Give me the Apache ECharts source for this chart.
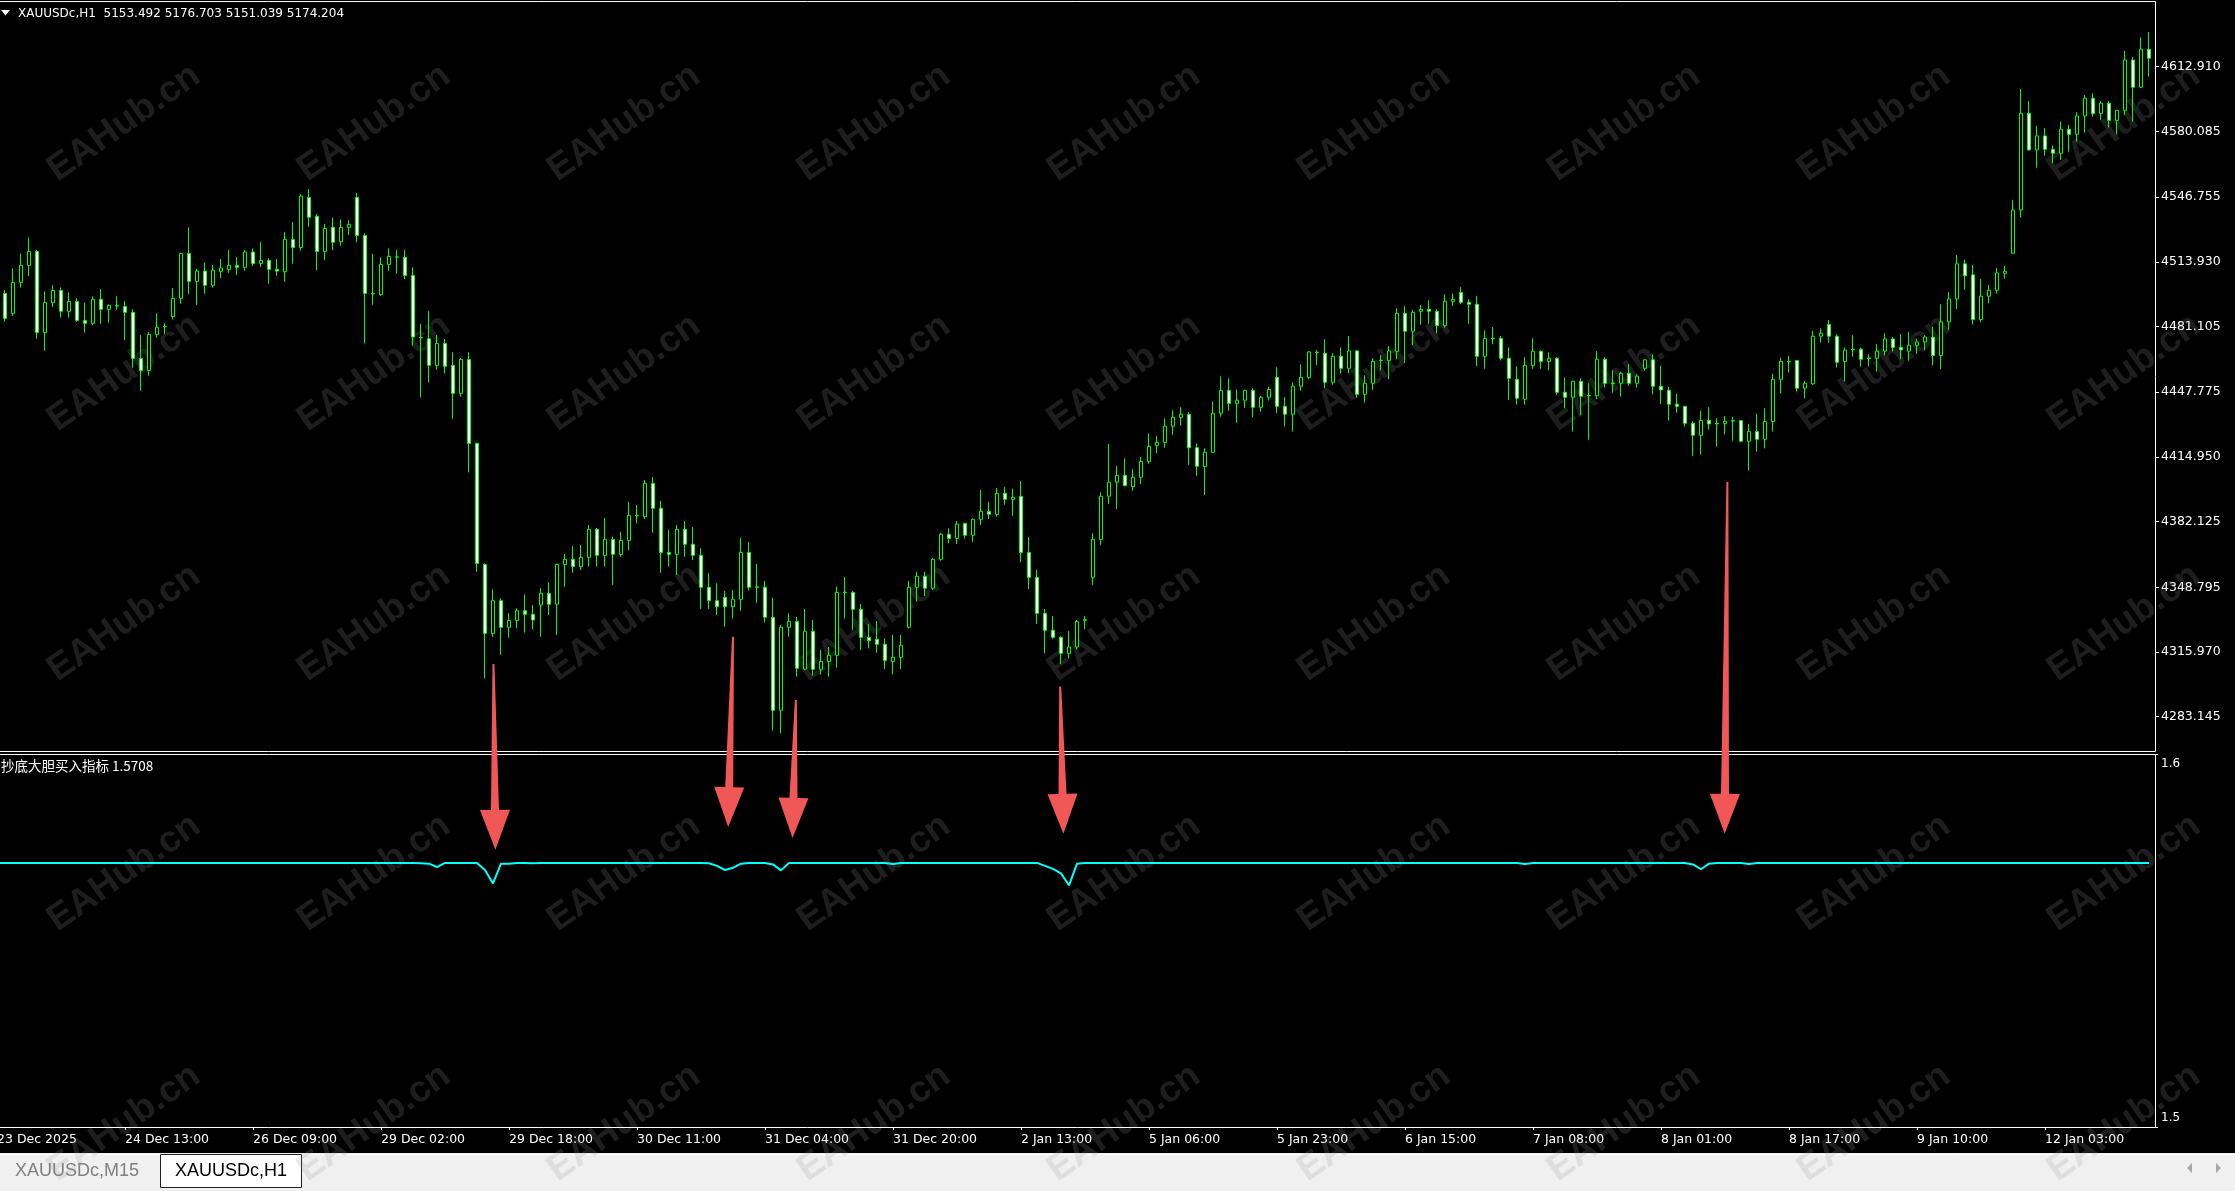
<!DOCTYPE html>
<html><head><meta charset="utf-8">
<script src="https://cdn.jsdelivr.net/npm/echarts@6/dist/echarts.min.js"></script>
<style>html,body{margin:0;padding:0;background:#000;overflow:hidden}#c{width:2235px;height:1191px}</style>
</head><body><div id="c"></div>
<script>
// ---- data ----
const timeLabels = ['23 Dec 2025','24 Dec 13:00','26 Dec 09:00','29 Dec 02:00','29 Dec 18:00','30 Dec 11:00','31 Dec 04:00','31 Dec 20:00','2 Jan 13:00','5 Jan 06:00','5 Jan 23:00','6 Jan 15:00','7 Jan 08:00','8 Jan 01:00','8 Jan 17:00','9 Jan 10:00','12 Jan 03:00'];
const priceTicks = [4612.910,4580.085,4546.755,4513.930,4481.105,4447.775,4414.950,4382.125,4348.795,4315.970,4283.145];
const indTicks = [1.5, 1.6];
const headerText = 'XAUUSDc,H1  5153.492 5176.703 5151.039 5174.204';
const indicatorName = '抄底大胆买入指标 1.5708';
// [open, close, low, high] per H1 bar
const ohlc = [
['-','-','-','-'],
[4497.9,4485.2,4483.5,4499.6],[4487.8,4503.5,4486.4,4510.6],[4503.5,4512.1,4500.8,4518.2],[4512.1,4519.2,4506.7,4526.3],[4519.2,4478.1,4474.9,4519.9],
[4478.1,4493.2,4468.8,4498.9],[4493.2,4499.4,4491.0,4502.0],[4499.4,4488.8,4485.6,4500.9],[4488.8,4493.8,4485.6,4498.4],[4493.8,4484.2,4483.5,4495.4],
[4484.2,4482.7,4478.0,4493.3],[4482.7,4494.9,4481.8,4496.4],[4494.9,4489.8,4482.5,4500.1],[4489.8,4491.8,4483.0,4492.3],[4491.6,4491.5,4489.6,4496.4],
[4491.3,4488.3,4474.2,4494.0],[4488.3,4464.9,4460.2,4489.8],[4464.9,4458.8,4448.5,4476.8],[4458.8,4477.1,4456.1,4478.3],[4477.1,4480.7,4475.4,4487.8],
[4481.0,4481.1,4477.3,4482.7],[4486.1,4495.4,4484.7,4500.6],[4495.4,4518.2,4492.7,4518.6],[4518.2,4504.0,4497.6,4531.4],[4504.0,4509.2,4492.0,4510.4],
[4509.2,4502.0,4497.7,4513.6],[4502.0,4509.7,4500.8,4512.3],[4509.1,4510.8,4505.7,4515.3],[4510.1,4512.1,4508.4,4519.9],[4512.1,4511.1,4507.2,4516.3],
[4511.1,4518.9,4509.4,4519.9],[4518.9,4513.1,4511.8,4520.7],[4513.1,4514.6,4511.3,4523.9],[4514.6,4510.1,4502.8,4515.7],[4510.1,4509.2,4506.9,4515.3],
[4508.9,4525.3,4503.8,4529.0],[4525.3,4521.2,4513.0,4534.1],[4521.2,4547.3,4519.6,4548.3],[4546.6,4536.5,4531.7,4550.8],[4537.0,4519.2,4509.7,4538.2],
[4519.2,4530.9,4514.8,4533.1],[4531.4,4523.8,4519.9,4536.3],[4524.1,4531.4,4522.1,4535.4],[4531.4,4532.9,4527.5,4534.9],[4546.6,4527.3,4523.8,4548.8],
[4527.3,4497.9,4472.5,4528.3],[4497.8,4497.6,4492.2,4517.9],[4497.2,4512.6,4496.6,4516.2],[4512.6,4516.7,4509.4,4520.7],[4516.4,4516.3,4507.9,4519.9],
[4516.2,4507.0,4505.2,4519.9],[4507.0,4475.8,4471.4,4511.1],[4475.5,4475.3,4445.1,4482.3],[4474.9,4461.4,4452.8,4488.9],[4461.4,4472.5,4459.2,4476.8],
[4472.5,4460.9,4457.2,4474.7],[4461.4,4447.2,4434.3,4468.0],[4447.2,4464.4,4445.5,4465.1],[4464.4,4421.8,4407.1,4468.0],[4421.8,4360.9,4356.7,4422.2],
[4360.4,4325.4,4302.6,4360.9],[4325.4,4342.0,4323.7,4347.7],[4342.0,4328.5,4314.6,4343.2],[4328.5,4332.0,4323.2,4335.6],[4332.0,4336.9,4328.0,4338.1],
[4336.9,4335.1,4325.8,4345.2],[4335.1,4332.2,4327.5,4339.8],[4339.8,4345.7,4323.7,4348.3],[4345.7,4340.2,4334.7,4351.3],[4340.2,4360.4,4324.6,4360.8],
[4360.4,4363.0,4349.1,4365.7],[4363.0,4359.3,4356.2,4369.7],[4359.3,4364.0,4357.6,4370.3],[4364.0,4378.2,4359.3,4380.4],[4378.2,4365.0,4359.3,4378.9],
[4365.0,4373.1,4359.3,4383.9],[4373.1,4365.5,4350.0,4374.5],[4365.5,4372.6,4364.3,4376.8],[4372.6,4385.3,4367.7,4392.1],[4385.2,4385.0,4381.2,4390.5],
[4384.6,4401.5,4383.4,4403.2],[4401.5,4388.9,4376.5,4404.7],[4388.9,4366.5,4356.2,4392.6],[4366.5,4365.5,4359.3,4377.9],[4365.5,4378.2,4355.0,4380.4],
[4378.2,4370.6,4364.3,4382.4],[4370.6,4365.0,4362.6,4379.4],[4365.0,4348.8,4337.8,4368.6],[4348.8,4342.0,4337.8,4355.9],[4342.0,4339.0,4334.7,4350.8],
[4343.7,4339.0,4328.8,4346.9],[4339.0,4342.7,4332.9,4347.4],[4342.7,4366.5,4336.9,4373.8],[4366.5,4348.8,4347.1,4371.8],[4349.0,4348.8,4341.0,4360.6],
[4348.8,4333.6,4330.9,4352.0],[4333.6,4286.4,4276.1,4343.4],[4286.4,4328.5,4274.7,4329.7],[4328.5,4331.5,4323.7,4335.6],[4331.5,4307.7,4303.5,4333.7],
[4307.3,4326.5,4306.8,4337.8],[4326.5,4307.2,4304.0,4332.2],[4307.2,4311.2,4304.5,4317.0],[4311.2,4314.3,4303.5,4318.5],[4314.3,4346.2,4308.0,4349.1],
[4346.3,4346.1,4332.9,4354.0],[4346.2,4337.6,4327.1,4346.9],[4337.6,4323.4,4317.0,4340.3],[4323.4,4321.7,4317.8,4330.2],[4322.4,4319.9,4315.6,4331.7],
[4319.9,4311.6,4307.3,4322.9],[4311.1,4313.3,4304.6,4324.6],[4313.3,4319.4,4307.3,4324.6],[4328.5,4348.8,4327.8,4352.0],[4348.8,4354.4,4341.5,4356.6],
[4354.4,4348.3,4344.4,4356.6],[4348.3,4363.0,4347.4,4363.7],[4363.0,4375.7,4362.3,4376.5],[4375.7,4373.6,4371.1,4378.7],[4373.6,4380.9,4370.8,4382.4],
[4381.2,4375.2,4373.5,4381.6],[4375.2,4383.3,4371.8,4383.8],[4383.3,4387.3,4380.4,4398.2],[4387.3,4385.8,4383.4,4392.1],[4385.8,4396.5,4384.6,4399.2],
[4396.5,4393.4,4390.7,4399.7],[4393.4,4394.4,4385.1,4398.8],[4394.9,4366.4,4361.6,4402.7],[4366.4,4353.8,4347.9,4374.3],[4353.8,4335.6,4330.2,4357.6],
[4335.6,4327.0,4315.3,4337.8],[4327.0,4323.4,4322.7,4334.2],[4323.4,4315.3,4309.9,4323.9],[4315.3,4318.5,4312.6,4326.6],[4318.5,4331.5,4317.3,4332.2],
[4332.3,4332.1,4327.5,4334.2],[4353.9,4373.1,4350.0,4376.2],[4373.1,4395.0,4370.3,4397.0],[4395.0,4402.1,4391.1,4421.5],[4402.1,4405.6,4388.5,4410.3],
[4405.6,4400.4,4399.9,4414.2],[4399.9,4404.6,4397.8,4408.7],[4404.6,4412.7,4401.2,4414.9],[4412.7,4420.3,4411.5,4426.9],[4420.8,4422.3,4416.9,4425.6],
[4422.3,4430.5,4419.6,4434.5],[4430.5,4435.0,4426.2,4438.6],[4435.0,4436.6,4430.8,4440.1],[4436.6,4419.6,4410.8,4437.6],[4419.6,4410.2,4405.4,4421.8],
[4410.0,4417.3,4395.6,4419.3],[4417.3,4437.1,4417.1,4443.1],[4437.1,4448.7,4435.4,4455.8],[4448.7,4442.1,4438.4,4454.8],[4442.1,4443.7,4432.3,4449.2],
[4443.7,4448.7,4439.8,4449.0],[4448.7,4440.1,4434.9,4449.7],[4440.1,4445.2,4437.9,4445.9],[4445.2,4449.2,4443.5,4450.6],[4455.3,4440.6,4437.1,4460.4],
[4440.6,4436.6,4430.3,4445.2],[4436.6,4450.8,4427.8,4452.8],[4450.8,4455.3,4448.6,4461.9],[4455.3,4468.2,4454.3,4468.7],[4468.1,4467.9,4461.4,4469.2],
[4467.5,4452.8,4449.7,4474.6],[4452.8,4466.0,4451.6,4467.5],[4466.0,4459.9,4457.2,4470.5],[4459.9,4468.7,4457.4,4476.3],[4468.7,4446.7,4445.0,4469.2],
[4446.7,4452.3,4442.5,4456.3],[4452.3,4463.4,4448.9,4465.0],[4464.0,4463.8,4458.9,4466.5],[4463.9,4468.7,4454.3,4471.2],[4468.5,4487.8,4464.5,4490.3],
[4487.8,4478.7,4462.6,4491.5],[4478.7,4488.3,4471.7,4489.5],[4488.8,4489.8,4482.0,4492.0],[4489.8,4488.8,4482.5,4494.4],[4488.8,4481.5,4477.6,4489.8],
[4481.5,4493.9,4480.5,4497.4],[4493.9,4494.9,4491.5,4497.9],[4498.4,4493.4,4492.4,4501.1],[4493.4,4492.4,4482.5,4494.9],[4492.4,4466.0,4461.1,4496.6],
[4466.0,4475.1,4459.7,4479.2],[4475.2,4475.0,4472.1,4480.9],[4475.1,4465.0,4463.9,4476.3],[4465.0,4454.8,4443.7,4470.5],[4454.3,4444.7,4441.5,4460.9],
[4444.2,4461.4,4441.5,4465.5],[4461.4,4468.5,4459.7,4475.1],[4468.5,4463.4,4459.7,4469.0],[4463.4,4465.0,4458.9,4468.0],[4465.0,4447.7,4446.5,4465.5],
[4447.7,4445.2,4439.6,4455.3],[4445.2,4453.3,4427.8,4453.6],[4453.3,4445.7,4436.0,4454.8],[4446.1,4445.9,4423.7,4452.3],[4446.0,4464.5,4444.2,4468.7],
[4464.5,4452.3,4450.2,4465.5],[4452.4,4452.2,4447.5,4458.9],[4452.3,4457.4,4445.6,4458.2],[4457.4,4452.3,4451.0,4462.0],[4452.3,4455.9,4450.1,4456.9],
[4459.9,4464.2,4458.7,4464.5],[4464.2,4450.8,4446.7,4467.0],[4450.8,4448.9,4441.8,4461.1],[4448.8,4441.7,4433.4,4450.5],[4441.7,4440.6,4437.4,4446.9],
[4440.6,4432.0,4430.3,4440.8],[4432.0,4425.9,4415.5,4432.9],[4425.9,4433.5,4416.1,4438.3],[4433.5,4431.7,4428.8,4440.1],[4431.9,4431.7,4420.2,4434.6],
[4431.8,4433.0,4426.3,4435.7],[4433.3,4433.1,4423.2,4435.2],[4433.4,4422.9,4422.4,4433.6],[4422.9,4427.8,4408.0,4431.7],[4427.8,4423.9,4417.6,4436.8],
[4423.9,4432.9,4419.3,4439.6],[4432.9,4454.3,4427.8,4457.1],[4454.3,4463.3,4447.1,4465.3],[4463.4,4463.2,4457.7,4466.2],[4463.8,4449.8,4448.1,4464.2],
[4449.8,4452.3,4444.7,4453.5],[4452.0,4476.2,4451.5,4478.9],[4476.2,4477.7,4472.9,4480.2],[4482.2,4476.2,4472.9,4484.4],[4476.2,4463.0,4460.3,4477.2],
[4463.3,4469.1,4453.2,4470.4],[4469.5,4469.3,4465.8,4476.7],[4469.6,4464.5,4460.8,4470.4],[4465.1,4464.9,4460.8,4467.0],[4465.0,4468.6,4458.2,4472.1],
[4468.6,4474.8,4466.4,4477.7],[4474.8,4470.4,4468.4,4475.8],[4470.6,4469.2,4464.5,4477.2],[4468.6,4471.6,4463.8,4478.2],[4471.6,4473.3,4467.2,4475.0],
[4473.3,4475.8,4469.1,4476.8],[4475.7,4466.4,4461.3,4480.9],[4466.4,4483.4,4459.4,4492.4],[4483.4,4495.1,4479.4,4498.5],[4495.1,4512.9,4490.0,4517.4],
[4512.9,4506.8,4499.7,4514.9],[4507.3,4484.6,4482.2,4512.3],[4484.6,4496.5,4483.3,4505.2],[4496.5,4499.5,4492.9,4502.2],[4499.5,4508.3,4497.8,4510.7],
[4508.1,4509.1,4505.4,4511.8],[4518.3,4540.2,4518.0,4545.3],[4540.2,4589.3,4536.4,4601.6],[4589.3,4570.7,4570.3,4595.5],[4570.7,4577.8,4561.7,4582.9],
[4577.8,4571.0,4567.8,4581.7],[4571.0,4569.0,4563.9,4572.9],[4569.0,4581.2,4565.6,4585.1],[4581.2,4578.6,4569.8,4583.4],[4578.6,4587.9,4574.9,4589.8],
[4587.9,4596.9,4579.5,4598.6],[4596.9,4589.1,4587.6,4599.4],[4589.1,4594.4,4585.9,4595.5],[4594.4,4585.7,4582.0,4595.5],[4585.7,4590.8,4578.6,4591.0],
[4590.8,4616.3,4588.4,4620.9],[4616.3,4602.5,4585.1,4617.7],[4602.5,4621.8,4602.0,4627.8],[4621.8,4617.2,4607.9,4630.5]
];
const indicator = [
1.5708,1.5708,1.5708,1.5708,1.5708,1.5708,1.5708,1.5708,1.5708,1.5708,
1.5708,1.5708,1.5708,1.5708,1.5708,1.5708,1.5708,1.5708,1.5708,1.5708,
1.5708,1.5708,1.5708,1.5708,1.5708,1.5708,1.5708,1.5708,1.5708,1.5708,
1.5708,1.5708,1.5708,1.5708,1.5708,1.5708,1.5708,1.5708,1.5708,1.5708,
1.5708,1.5708,1.5708,1.5708,1.5708,1.5708,1.5708,1.5708,1.5708,1.5708,
1.5708,1.5708,1.5708,1.5707,1.5706,1.5697,1.5708,1.5708,1.5708,1.5708,
1.5708,1.5689,1.5653,1.5706,1.5706,1.5708,1.5708,1.5707,1.5708,1.5708,
1.5708,1.5708,1.5708,1.5708,1.5708,1.5708,1.5708,1.5708,1.5708,1.5708,
1.5708,1.5708,1.5708,1.5708,1.5708,1.5708,1.5708,1.5708,1.5708,1.5707,
1.5700,1.5689,1.5695,1.5706,1.5708,1.5708,1.5708,1.5704,1.5688,1.5708,
1.5708,1.5708,1.5708,1.5708,1.5708,1.5708,1.5708,1.5708,1.5708,1.5708,
1.5708,1.5708,1.5705,1.5708,1.5708,1.5708,1.5708,1.5708,1.5708,1.5708,
1.5708,1.5708,1.5708,1.5708,1.5708,1.5708,1.5708,1.5708,1.5708,1.5708,
1.5708,1.5700,1.5692,1.5680,1.5648,1.5706,1.5708,1.5708,1.5708,1.5708,
1.5708,1.5708,1.5708,1.5708,1.5708,1.5708,1.5708,1.5708,1.5708,1.5708,
1.5708,1.5708,1.5708,1.5708,1.5708,1.5708,1.5708,1.5708,1.5708,1.5708,
1.5708,1.5708,1.5708,1.5708,1.5708,1.5708,1.5708,1.5708,1.5708,1.5708,
1.5708,1.5708,1.5708,1.5708,1.5708,1.5708,1.5708,1.5708,1.5708,1.5708,
1.5708,1.5708,1.5708,1.5708,1.5708,1.5708,1.5708,1.5708,1.5708,1.5708,
1.5708,1.5705,1.5708,1.5708,1.5708,1.5708,1.5708,1.5708,1.5708,1.5708,
1.5708,1.5708,1.5708,1.5708,1.5708,1.5708,1.5708,1.5708,1.5708,1.5708,
1.5708,1.5708,1.5704,1.5691,1.5706,1.5708,1.5708,1.5708,1.5708,1.5705,
1.5708,1.5708,1.5708,1.5708,1.5708,1.5708,1.5708,1.5708,1.5708,1.5708,
1.5708,1.5708,1.5708,1.5708,1.5708,1.5708,1.5708,1.5708,1.5708,1.5708,
1.5708,1.5708,1.5708,1.5708,1.5708,1.5708,1.5708,1.5708,1.5708,1.5708,
1.5708,1.5708,1.5708,1.5708,1.5708,1.5708,1.5708,1.5708,1.5708,1.5708,
1.5708,1.5708,1.5708,1.5708,1.5708,1.5708,1.5708,1.5708,1.5708,1.5708
];
// red annotation arrows: start (bar, price) in the price pane, tip (bar, value) in the indicator pane
const arrowBarsTop = [62.06, 92.0, 99.86, 132.9, 216.3];
const arrowPricesTop = [4309.9, 4323.7, 4291.6, 4298.4, 4402.3];
const arrowBarsTip = [62.3, 91.4, 99.44, 133.3, 215.96];
const arrowValuesTip = [1.5743, 1.5804, 1.5775, 1.5786, 1.5786];
const watermarkText = 'EAHub.cn';

// ---- chart ----
const cats = ohlc.map((d, i) => String(i));
const chart = echarts.init(document.getElementById('c'), null, {renderer: 'canvas', width: 2235, height: 1191});
const axisFont = {color: '#ffffff', fontFamily: 'DejaVu Sans', fontSize: 12.5};

const option = {
  backgroundColor: '#000000',
  animation: false,
  grid: [
    {left: -7, top: 1, width: 2160, height: 750, show: false, containLabel: false, outerBoundsMode: 'none'},
    {left: -7, top: 754, width: 2160, height: 373, show: false, containLabel: false, outerBoundsMode: 'none'}
  ],
  xAxis: [
    {type: 'category', gridIndex: 0, data: cats, show: false},
    {type: 'category', gridIndex: 1, data: cats, boundaryGap: true,
      axisLine: {show: false}, splitLine: {show: false},
      axisTick: {show: true, alignWithLabel: true, interval: (i) => i % 16 === 0, length: 3, lineStyle: {color: '#ffffff'}},
      axisLabel: Object.assign({interval: (i) => i % 16 === 0, align: 'left', margin: 6,
        formatter: (v, i) => (i % 16 === 0 && timeLabels[i / 16]) ? timeLabels[i / 16] : ''}, axisFont)}
  ],
  yAxis: [
    {type: 'value', gridIndex: 0, position: 'right', offset: 2, min: 4265.74, max: 4646.24, scale: true,
      axisLine: {show: false}, splitLine: {show: false},
      axisTick: {show: true, customValues: priceTicks, length: 4, lineStyle: {color: '#ffffff'}},
      axisLabel: Object.assign({customValues: priceTicks, margin: 6, formatter: (v) => Number(v).toFixed(3)}, axisFont)},
    {type: 'value', gridIndex: 1, position: 'right', offset: 2, min: 1.5, max: 1.6,
      axisLine: {show: false}, splitLine: {show: false},
      axisTick: {show: true, customValues: indTicks, length: 3, lineStyle: {color: '#ffffff'}},
      axisLabel: Object.assign({customValues: indTicks, margin: 6, lineHeight: 19,
        formatter: (v) => (Math.abs(v - 1.6) < 1e-9 ? '\n' + Number(v).toFixed(1) : Number(v).toFixed(1) + '\n')}, axisFont, {fontSize: 12})}
  ],
  series: [
    {type: 'candlestick', xAxisIndex: 0, yAxisIndex: 0, data: ohlc, barWidth: 4, clip: true,
      itemStyle: {color: '#000000', color0: '#ffffff', borderColor: '#00ff00', borderColor0: '#00ff00', borderColorDoji: '#00ff00', borderWidth: 1},
      emphasis: {disabled: true}},
    {type: 'line', xAxisIndex: 1, yAxisIndex: 1, data: indicator, symbol: 'none', showSymbol: false,
      lineStyle: {color: '#00ffff', width: 2}, emphasis: {disabled: true}}
  ]
};
chart.setOption(option);

function toPx(idx, bar, val) {
  const b0 = Math.floor(bar), f = bar - b0;
  const p0 = chart.convertToPixel({xAxisIndex: idx, yAxisIndex: idx}, [b0, val]);
  const p1 = chart.convertToPixel({xAxisIndex: idx, yAxisIndex: idx}, [b0 + 1, val]);
  return [p0[0] + f * (p1[0] - p0[0]), p0[1]];
}
function arrowPoly(t, b) {
  const dx = b[0] - t[0], dy = b[1] - t[1], L = Math.hypot(dx, dy);
  const ux = dx / L, uy = dy / L, nx = -uy, ny = ux;
  const H = 40, hw = 15, s0 = 1, s1 = 4;
  const bx = b[0] - ux * H, by = b[1] - uy * H;
  return [[t[0] + nx * s0, t[1] + ny * s0], [bx + nx * s1, by + ny * s1], [bx + nx * hw, by + ny * hw], [b[0], b[1]],
          [bx - nx * hw, by - ny * hw], [bx - nx * s1, by - ny * s1], [t[0] - nx * s0, t[1] - ny * s0]];
}

const els = [];
// tab bar
els.push({type: 'rect', z: 0, shape: {x: 0, y: 1153, width: 2235, height: 38}, style: {fill: '#f0f0f0'}});
els.push({type: 'line', z: 0, shape: {x1: 0, y1: 1154.5, x2: 2235, y2: 1154.5}, style: {stroke: '#ffffff', lineWidth: 1}});
els.push({type: 'rect', z: 0, shape: {x: 160.5, y: 1154.5, width: 141, height: 33}, style: {fill: '#ffffff', stroke: '#202020', lineWidth: 1}});
els.push({type: 'text', z: 0, x: 77, y: 1171, style: {text: 'XAUUSDc,M15', fill: '#808080', font: '18px "Liberation Sans"', align: 'center', verticalAlign: 'middle'}});
els.push({type: 'text', z: 0, x: 231, y: 1171, style: {text: 'XAUUSDc,H1', fill: '#000000', font: '18px "Liberation Sans"', align: 'center', verticalAlign: 'middle'}});
els.push({type: 'polygon', z: 0, shape: {points: [[2187, 1168], [2192, 1163], [2192, 1173]]}, style: {fill: '#a8a8a8'}});
els.push({type: 'polygon', z: 0, shape: {points: [[2221, 1168], [2216, 1163], [2216, 1173]]}, style: {fill: '#a8a8a8'}});
// watermarks
for (let r = 0; r < 5; r++) {
  for (let c = 0; c < 9; c++) {
    els.push({type: 'text', z: 1, silent: true, x: 124 + 250 * c, y: 123 + 250 * r, rotation: 35 * Math.PI / 180,
      style: {text: watermarkText, fill: 'rgba(150,150,150,0.2)', font: 'bold 37px "Liberation Sans"', align: 'center', verticalAlign: 'middle'}});
  }
}
// pane frames
els.push({type: 'rect', z: 10, shape: {x: -5, y: 1.5, width: 2160.5, height: 750}, style: {fill: 'none', stroke: '#ffffff', lineWidth: 1}});
els.push({type: 'rect', z: 10, shape: {x: -5, y: 754.5, width: 2160.5, height: 373}, style: {fill: 'none', stroke: '#ffffff', lineWidth: 1}});
// header + indicator name
els.push({type: 'polygon', z: 10, shape: {points: [[1, 10], [10, 10], [5.5, 15.5]]}, style: {fill: '#ffffff'}});
els.push({type: 'text', z: 10, x: 18, y: 13.5, style: {text: headerText, fill: '#ffffff', font: '12px "DejaVu Sans"', align: 'left', verticalAlign: 'middle'}});
els.push({type: 'text', z: 10, x: 1, y: 766, style: {text: indicatorName, fill: '#ffffff', font: '13.5px "Noto Sans CJK SC"', align: 'left', verticalAlign: 'middle'}});
// red arrows
for (let i = 0; i < arrowBarsTop.length; i++) {
  const t = toPx(0, arrowBarsTop[i], arrowPricesTop[i]);
  const b = toPx(1, arrowBarsTip[i], arrowValuesTip[i]);
  els.push({type: 'polygon', z: 20, shape: {points: arrowPoly(t, b)}, style: {fill: '#f25757'}});
}
chart.setOption({graphic: {elements: els}});
</script>
</body></html>
